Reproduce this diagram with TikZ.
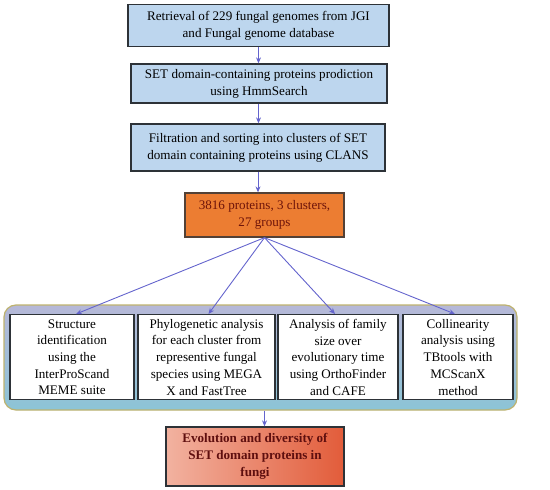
\documentclass[tikz,border=0pt]{standalone}
\usepackage{fontspec}
\setmainfont{Liberation Serif}
\usetikzlibrary{arrows.meta,calc}
\definecolor{boxblue}{RGB}{189,214,238}
\definecolor{boxedge}{RGB}{45,50,55}
\definecolor{orangefill}{RGB}{236,125,50}
\definecolor{orangetext}{RGB}{110,20,10}
\definecolor{arrowcol}{RGB}{100,100,205}
\definecolor{contedge}{RGB}{190,178,110}
\definecolor{conttop}{RGB}{182,184,216}
\definecolor{contbot}{RGB}{140,196,214}
\definecolor{finleft}{RGB}{242,178,160}
\definecolor{finright}{RGB}{226,92,58}
\definecolor{fintext}{RGB}{95,15,15}
\begin{document}
\begin{tikzpicture}[x=1pt,y=-1pt,
  every node/.style={inner sep=1pt, align=center},
  topbox/.style={draw=boxedge, line width=1.3pt, fill=boxblue,
    font=\fontsize{13.1}{17}\selectfont},
  inbox/.style={draw=boxedge, line width=1.3pt, fill=white,
    font=\fontsize{13.1}{16.7}\selectfont, anchor=north},
  conn/.style={draw=arrowcol, line width=0.9pt, -{Stealth[length=6pt,width=5pt]}}
]
\useasboundingbox (0,0) rectangle (550,490);
\node[topbox, minimum width=261pt, minimum height=42pt] (b1) at (258.5,25.5)
  {Retrieval of 229 fungal genomes from JGI\\and Fungal genome database};
\node[topbox, minimum width=256pt, minimum height=39pt] (b2) at (259,83.5)
  {SET domain-containing proteins prodiction\\using HmmSearch};
\node[topbox, minimum width=254pt, minimum height=47pt] (b3) at (258,147.5)
  {Filtration and sorting into clusters of SET\\domain containing proteins using CLANS};
\node[draw=boxedge!80!orangefill, line width=1.3pt, fill=orangefill, text=orangetext,
  font=\fontsize{13.1}{16.7}\selectfont,
  minimum width=159pt, minimum height=44pt] (b4) at (264.5,215)
  {3816 proteins, 3 clusters,\\27 groups};
\node[draw=contedge, line width=1.2pt, rounded corners=12pt,
  top color=conttop, bottom color=contbot,
  minimum width=513pt, minimum height=105pt] (cont) at (260.5,357.5) {};
\node[inbox, minimum width=124pt, minimum height=85pt] (i1) at (72,314)
  {Structure\\identification\\using the\\InterProScand\\MEME suite};
\node[inbox, minimum width=137pt, minimum height=85pt] (i2) at (206.5,314)
  {Phylogenetic analysis\\for each cluster from\\representive fungal\\species using MEGA\\X and FastTree};
\node[inbox, minimum width=120pt, minimum height=85pt] (i3) at (338,314)
  {Analysis of family\\size over\\evolutionary time\\using OrthoFinder\\and CAFE};
\node[inbox, minimum width=110pt, minimum height=85pt] (i4) at (458,314)
  {Collinearity\\analysis using\\TBtools with\\MCScanX\\method};
\node[draw=boxedge, line width=1.3pt, left color=finleft, right color=finright,
  text=fintext, font=\bfseries\fontsize{13.1}{16.7}\selectfont,
  minimum width=178pt, minimum height=59pt] (fin) at (255,456.5)
  {Evolution and diversity of\\SET domain proteins in\\fungi};
\draw[conn] (b1.south) -- (b1.south |- b2.north);
\draw[conn] (b2.south -| b1.south) -- (b1.south |- b3.north);
\draw[conn] (b3.south) -- (b3.south |- b4.north);
\draw[conn] (b4.south) -- ($(i1.north)+(4,0)$);
\draw[conn] (b4.south) -- ($(i2.north)+(2,0)$);
\draw[conn] (b4.south) -- ($(i3.north)+(-3,0)$);
\draw[conn] (b4.south) -- ($(i4.north)+(-3,0)$);
\draw[conn] (b4.south |- cont.south) -- (b4.south |- fin.north);
\end{tikzpicture}
\end{document}
